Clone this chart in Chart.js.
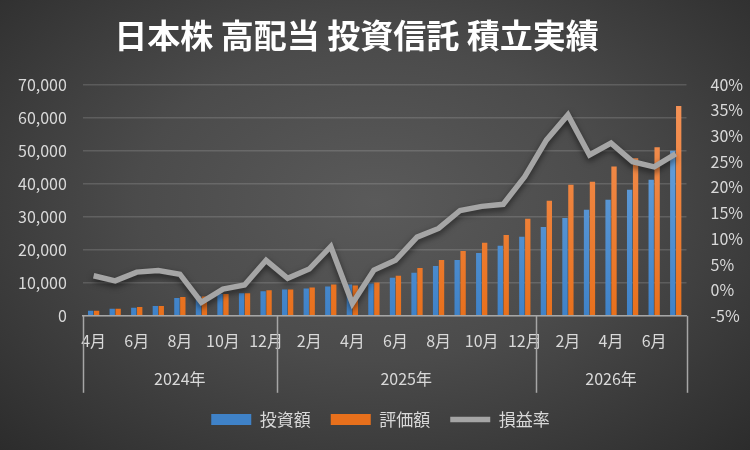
<!DOCTYPE html>
<html lang="ja">
<head>
<meta charset="utf-8">
<script src="https://cdn.jsdelivr.net/npm/chart.js@4.4.1/dist/chart.umd.min.js"></script>
<style>
    html, body { margin: 0; padding: 0; }
    #wrap {
        width: 750px;
        height: 450px;
        background: radial-gradient(ellipse at 50% 45%, #5a5a5a 0%, #4b4b4b 45%, #2c2c2c 100%);
    }
</style>
</head>
<body>
<div id="wrap"><canvas id="chart"></canvas></div>
<script>
// データ
const months = [
    '4月', '5月', '6月', '7月', '8月', '9月', '10月', '11月', '12月',
    '1月', '2月', '3月', '4月', '5月', '6月', '7月', '8月', '9月', '10月', '11月', '12月',
    '1月', '2月', '3月', '4月', '5月', '6月', '7月'
];
const years = ['2024年', '2025年', '2026年'];
const monthsPerYear = [9, 12, 7];

const invested = [
    1500, 2100, 2400, 3000, 5400, 6000, 6600, 6800, 7400,
    8000, 8300, 8900, 9500, 9800, 11500, 13000, 15100, 16900, 19000, 21200, 23900,
    26900, 29600, 32100, 35100, 38200, 41200, 50000
];
const valuation = [
    1500, 2100, 2700, 3000, 5700, 5850, 6600, 6800, 7700,
    8000, 8600, 9500, 9200, 10100, 12100, 14500, 16900, 19600, 22100, 24500, 29400,
    34800, 39700, 40600, 45200, 47700, 51000, 63500
];
const profitRate = [
    2.8, 1.8, 3.5, 3.8, 3.1, -2.4, 0.2, 1.0, 5.8,
    2.3, 4.1, 8.5, -2.6, 3.9, 5.8, 10.3, 12.0, 15.5, 16.3, 16.7, 22.1,
    29.2, 34.1, 26.3, 28.6, 25.0, 24.0, 26.5
];

const FONT = '"Noto Sans CJK JP", "Noto Sans", sans-serif';
const TEXT = '#d9d9d9';
const SEP = '#a6a6a6';

// 年の区切り（月の境界のインデックス）
const edges = [0];
monthsPerYear.forEach(n => edges.push(edges[edges.length - 1] + n));

function barGradient(ctx, top, bottom) {
    const area = ctx.chart.chartArea;
    if (!area) return bottom;
    const g = ctx.chart.ctx.createLinearGradient(0, area.top, 0, area.bottom);
    g.addColorStop(0, top);
    g.addColorStop(1, bottom);
    return g;
}

// 折れ線の影
const lineShadow = {
    id: 'lineShadow',
    beforeDatasetDraw(chart, args) {
        if (args.index !== 2) return;
        const c = chart.ctx;
        c.save();
        c.shadowColor = 'rgba(0,0,0,0.55)';
        c.shadowBlur = 6;
        c.shadowOffsetY = 3;
    },
    afterDatasetDraw(chart, args) {
        if (args.index !== 2) return;
        chart.ctx.restore();
    }
};

// 年の行（区切り線と年ラベル）をx軸の目盛りから描く
const yearRow = {
    id: 'yearRow',
    afterLayout(chart) {
        // タイトルを少し左寄せ
        if (chart.titleBlock) chart.titleBlock.right -= 48;
    },
    afterDraw(chart) {
        const xs = chart.scales.x;
        const c = chart.ctx;
        const y0 = chart.chartArea.bottom;
        c.save();
        c.strokeStyle = SEP;
        c.lineWidth = 1.5;
        edges.forEach(e => {
            const x = Math.round(xs.getPixelForValue(e - 0.5)) + 0.5;
            c.beginPath();
            c.moveTo(x, y0);
            c.lineTo(x, y0 + 77);
            c.stroke();
        });
        c.fillStyle = TEXT;
        c.font = '16px ' + FONT;
        c.textAlign = 'center';
        c.textBaseline = 'middle';
        years.forEach((yr, i) => {
            const mid = (edges[i] + edges[i + 1]) / 2 - 0.5;
            c.fillText(yr, xs.getPixelForValue(mid), y0 + 63);
        });
        c.restore();
    }
};

new Chart(document.getElementById('chart'), {
    type: 'bar',
    data: {
        labels: months,
        datasets: [
            {
                label: '投資額',
                data: invested,
                backgroundColor: ctx => barGradient(ctx, '#72a9e0', '#3f82c8'),
                yAxisID: 'y',
                order: 1,
                pointStyle: 'rect',
                barPercentage: 0.9,
                categoryPercentage: 0.55
            },
            {
                label: '評価額',
                data: valuation,
                backgroundColor: ctx => barGradient(ctx, '#f5955c', '#e8701c'),
                yAxisID: 'y',
                order: 1,
                pointStyle: 'rect',
                barPercentage: 0.9,
                categoryPercentage: 0.55
            },
            {
                type: 'line',
                label: '損益率',
                data: profitRate,
                borderColor: '#a5a5a5',
                backgroundColor: '#a5a5a5',
                borderWidth: 5.5,
                pointRadius: 0,
                pointStyle: 'line',
                tension: 0,
                yAxisID: 'y1',
                order: 0
            }
        ]
    },
    plugins: [lineShadow, yearRow],
    options: {
        responsive: true,
        maintainAspectRatio: false,
        animation: false,
        layout: { padding: { left: 2, right: -9, top: 0, bottom: 12 } },
        plugins: {
            title: {
                display: true,
                text: '日本株 高配当 投資信託 積立実績',
                color: '#ffffff',
                font: { family: FONT, size: 33, weight: 'bold' },
                padding: { top: 16, bottom: 29 }
            },
            legend: {
                position: 'bottom',
                labels: {
                    color: TEXT,
                    font: { family: FONT, size: 17 },
                    usePointStyle: true,
                    pointStyleWidth: 40,
                    boxWidth: 40,
                    boxHeight: 11,
                    padding: 20,
                    sort: (a, b) => a.datasetIndex - b.datasetIndex
                }
            },
            tooltip: { enabled: false }
        },
        scales: {
            x: {
                type: 'category',
                offset: true,
                border: { display: true, color: SEP, width: 1.5 },
                grid: { display: false },
                ticks: {
                    color: TEXT,
                    font: { family: FONT, size: 16 },
                    autoSkip: false,
                    maxRotation: 0,
                    padding: 8,
                    callback: (v, i) => i % 2 === 0 ? months[i] : ''
                },
                afterFit: axis => { axis.height += 32; }
            },
            y: {
                position: 'left',
                min: 0,
                max: 70000,
                border: { display: false },
                grid: { color: 'rgba(255,255,255,0.14)', lineWidth: 1.5, drawTicks: false },
                ticks: {
                    stepSize: 10000,
                    color: TEXT,
                    font: { family: FONT, size: 16 },
                    padding: 16,
                    callback: v => v.toLocaleString('en-US')
                }
            },
            y1: {
                position: 'right',
                min: -5,
                max: 40,
                border: { display: false },
                grid: { display: false, drawOnChartArea: false },
                ticks: {
                    stepSize: 5,
                    color: TEXT,
                    font: { family: FONT, size: 16 },
                    padding: 16,
                    callback: v => v + '%'
                }
            }
        }
    }
});
</script>
</body>
</html>
